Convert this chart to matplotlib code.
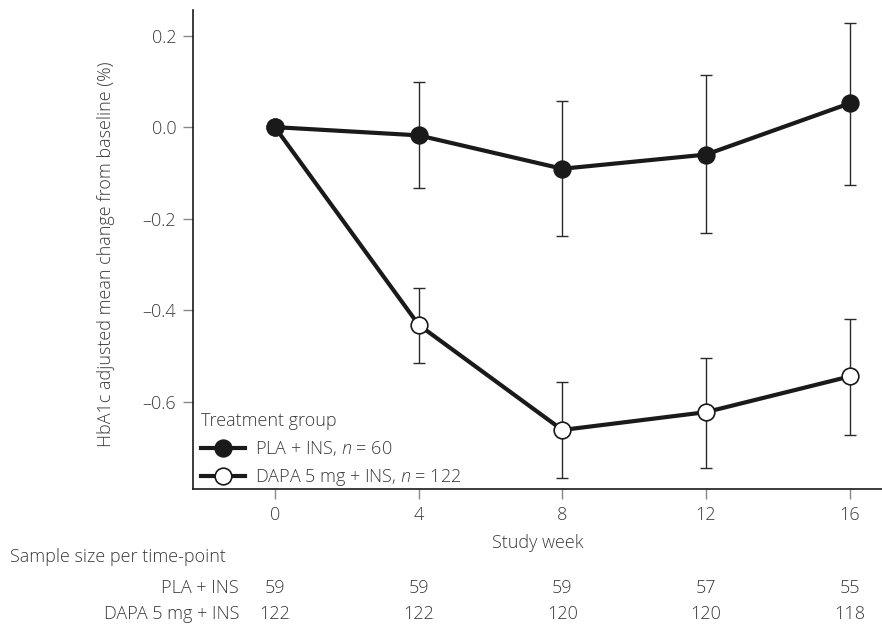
import numpy as np
import matplotlib
matplotlib.use("Agg")
import matplotlib.pyplot as plt

plt.rcParams['font.family'] = ['Open Sans', 'DejaVu Sans']
plt.rcParams['font.weight'] = 'light'
plt.rcParams['axes.labelweight'] = 'light'
plt.rcParams['mathtext.fontset'] = 'custom'
plt.rcParams['mathtext.it'] = 'Open Sans:italic:light'
plt.rcParams['mathtext.rm'] = 'Open Sans:light'

# data
weeks = [0, 4, 8, 12, 16]
pla_mean = [0.0, -0.018, -0.091, -0.060, 0.052]
pla_upper = [0.0, 0.098, 0.057, 0.113, 0.228]
pla_lower = [0.0, -0.134, -0.239, -0.232, -0.126]
dapa_mean = [0.0, -0.432, -0.662, -0.623, -0.545]
dapa_upper = [0.0, -0.351, -0.557, -0.505, -0.420]
dapa_lower = [0.0, -0.515, -0.766, -0.746, -0.673]

pla_n = [59, 59, 59, 57, 55]
dapa_n = [122, 122, 120, 120, 118]
pla_label = "PLA + INS, $\\it{n}$ = 60"
dapa_label = "DAPA 5 mg + INS, $\\it{n}$ = 122"

txt = '#3a3a3a'
fs = 13
fig = plt.figure(figsize=(8.82, 6.27), dpi=100)
ax = fig.add_axes([193 / 882, 1 - 489 / 627, 1 - 193 / 882, (489 - 10) / 627])

def draw(mean, lo, hi, face, label):
    mean = np.array(mean)
    yerr = np.array([mean - np.array(lo), np.array(hi) - mean])
    ax.errorbar(weeks[1:], mean[1:], yerr=yerr[:, 1:], fmt='none',
                ecolor='#2a2a2a', elinewidth=1.0, capsize=4, capthick=1.0, zorder=2)
    ax.plot(weeks, mean, '-o', color='#1a1a1a', lw=3, ms=12,
            mfc=face, mec='#1a1a1a', mew=1.2, label=label, zorder=3)

draw(dapa_mean, dapa_lower, dapa_upper, 'white', dapa_label)
draw(pla_mean, pla_lower, pla_upper, '#1a1a1a', pla_label)

ax.set_xlim(-2.28, 16.9)
ax.set_ylim(-0.791, 0.256)
ax.set_xticks(weeks)
ax.set_yticks([0.2, 0.0, -0.2, -0.4, -0.6])
ax.set_yticklabels(['0.2', '0.0', '\u20130.2', '\u20130.4', '\u20130.6'])
for s in ['top', 'right']:
    ax.spines[s].set_visible(False)
for s in ['left', 'bottom']:
    ax.spines[s].set_color('#1a1a1a')
    ax.spines[s].set_linewidth(1.2)
ax.tick_params(axis='both', length=7, width=1, color='#888888',
               labelsize=fs, labelcolor=txt, pad=5)
ax.set_ylabel('HbA1c adjusted mean change from baseline (%)', fontsize=fs,
              color=txt, fontweight='light')
ax.yaxis.set_label_coords(-0.113, 0.49)
ax.set_xlabel('Study week', fontsize=fs, color=txt, labelpad=7.5, fontweight='light')

handles, labels = ax.get_legend_handles_labels()
leg = ax.legend(handles[::-1], labels[::-1], loc='lower left', frameon=False,
                title='Treatment group', fontsize=fs, title_fontsize=fs,
                handlelength=2.4, handletextpad=0.6, borderaxespad=0.0,
                labelspacing=0.5, borderpad=0.0, bbox_to_anchor=(0.012, 0.002))
leg._legend_box.align = 'left'
for t in leg.get_texts():
    t.set_color(txt)
leg.get_title().set_color(txt)
leg.get_title().set_fontweight('light')

# sample size table below axis
fig.text(10 / 882, 1 - 557 / 627, 'Sample size per time-point', fontsize=fs,
         color=txt, va='center', ha='left')
row_y = [588, 614]
for yy, (name, counts) in zip(row_y, [('PLA + INS', pla_n), ('DAPA 5 mg + INS', dapa_n)]):
    yfig = 1 - yy / 627
    fig.text(239 / 882, yfig, name, fontsize=fs, color=txt, va='center', ha='right')
    for w, c in zip(weeks, counts):
        xd = ax.transData.transform((w, 0))[0]
        xf = fig.transFigure.inverted().transform((xd, 0))[0]
        fig.text(xf, yfig, str(c), fontsize=fs, color=txt, va='center', ha='center')

fig.savefig('out.png', dpi=100)
